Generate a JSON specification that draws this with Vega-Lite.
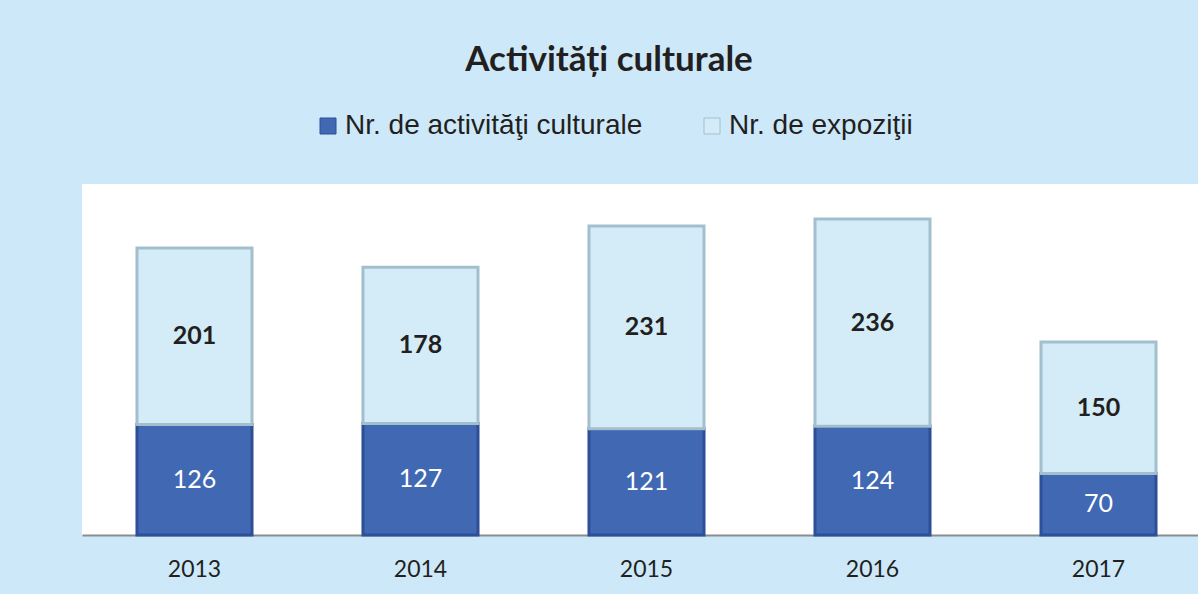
{
  "$schema": "https://vega.github.io/schema/vega-lite/v6.json",
  "autosize": "none",
  "width": 1116,
  "height": 351,
  "padding": {"left": 82, "top": 184, "right": 0, "bottom": 59},
  "background": "#cde9f9",
  "title": {
    "text": "Activități culturale",
    "font": "Lato",
    "fontWeight": "bold",
    "fontSize": 35,
    "color": "#231f20",
    "anchor": "middle",
    "dx": -31,
    "offset": 34
  },
  "config": {
    "view": {"fill": "white", "stroke": null},
    "font": "Lato"
  },
  "data": {
    "values": [
      {"year": "2013", "series": "Nr. de activităţi culturale", "ord": 1, "value": 126},
      {"year": "2013", "series": "Nr. de expoziţii", "ord": 2, "value": 201},
      {"year": "2014", "series": "Nr. de activităţi culturale", "ord": 1, "value": 127},
      {"year": "2014", "series": "Nr. de expoziţii", "ord": 2, "value": 178},
      {"year": "2015", "series": "Nr. de activităţi culturale", "ord": 1, "value": 121},
      {"year": "2015", "series": "Nr. de expoziţii", "ord": 2, "value": 231},
      {"year": "2016", "series": "Nr. de activităţi culturale", "ord": 1, "value": 124},
      {"year": "2016", "series": "Nr. de expoziţii", "ord": 2, "value": 236},
      {"year": "2017", "series": "Nr. de activităţi culturale", "ord": 1, "value": 70},
      {"year": "2017", "series": "Nr. de expoziţii", "ord": 2, "value": 150}
    ]
  },
  "encoding": {
    "x": {
      "field": "year",
      "type": "nominal",
      "scale": {"paddingInner": 0.491, "paddingOuter": 0.2145, "align": 0.567},
      "axis": {
        "title": null,
        "labelAngle": 0,
        "labelFont": "Lato",
        "labelFontSize": 23,
        "labelColor": "#231f20",
        "labelPadding": 23,
        "ticks": false,
        "domainColor": "#8c8c8c",
        "domainWidth": 2,
        "grid": false
      }
    },
    "y": {
      "field": "value",
      "type": "quantitative",
      "stack": "zero",
      "scale": {"domain": [0, 400], "nice": false},
      "axis": null
    },
    "order": {"field": "ord", "type": "quantitative"}
  },
  "layer": [
    {
      "mark": {"type": "bar", "strokeWidth": 3},
      "encoding": {
        "color": {
          "field": "series",
          "type": "nominal",
          "scale": {
            "domain": ["Nr. de activităţi culturale", "Nr. de expoziţii"],
            "range": ["#4169b3", "#d3ecf7"]
          },
          "legend": {
            "orient": "none",
            "direction": "horizontal",
            "legendX": 232,
            "legendY": -72,
            "title": null,
            "padding": 0,
            "symbolType": "square",
            "symbolSize": 256,
            "symbolStrokeWidth": 1,
            "labelFont": "Liberation Sans",
            "labelFontSize": 28,
            "labelColor": "#231f20",
            "labelOffset": 3,
            "columnPadding": 55,
            "labelLimit": 600
          }
        },
        "stroke": {
          "field": "series",
          "type": "nominal",
          "scale": {
            "domain": ["Nr. de activităţi culturale", "Nr. de expoziţii"],
            "range": ["#2d4f98", "#a3bfcd"]
          },
          "legend": null
        }
      }
    },
    {
      "mark": {"type": "text", "font": "Lato", "fontSize": 25, "color": "white", "baseline": "middle"},
      "encoding": {
        "y": {"field": "value", "type": "quantitative", "stack": "zero", "bandPosition": 0.5},
        "text": {"field": "value", "type": "quantitative"},
        "opacity": {"condition": {"test": "datum.ord == 1", "value": 1}, "value": 0}
      }
    },
    {
      "mark": {"type": "text", "font": "Lato", "fontSize": 25, "fontWeight": "bold", "color": "#231f20", "baseline": "middle"},
      "encoding": {
        "y": {"field": "value", "type": "quantitative", "stack": "zero", "bandPosition": 0.5},
        "text": {"field": "value", "type": "quantitative"},
        "opacity": {"condition": {"test": "datum.ord == 2", "value": 1}, "value": 0}
      }
    }
  ]
}
